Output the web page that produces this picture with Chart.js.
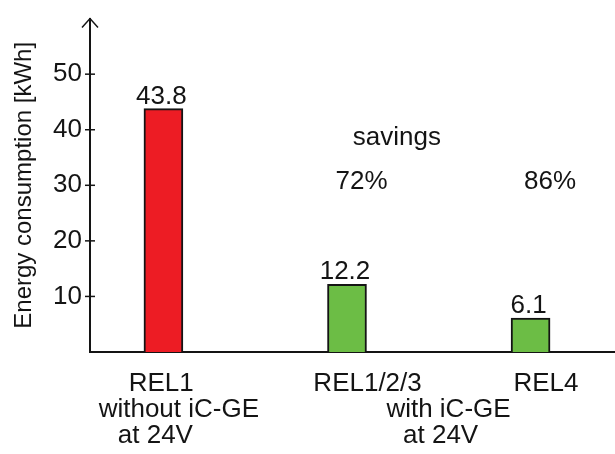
<!DOCTYPE html>
<html>
<head>
<meta charset="utf-8">
<script src="https://cdn.jsdelivr.net/npm/chart.js@4/dist/chart.umd.min.js"></script>
<style>
html,body{margin:0;padding:0;background:#fff;}
#wrap{width:615px;height:454px;position:relative;}
</style>
</head>
<body>
<div id="wrap"><canvas id="c"></canvas></div>
<script>
// ---- data ----
const categories = ["REL1", "REL1/2/3", "REL4"];
const energy = [43.8, 12.2, 6.1];
const groupLabels = [["without iC-GE", "at 24V"], ["with iC-GE", "at 24V"]];
const savingsTitle = "savings";
const savings = ["72%", "86%"];
const yTicks = [10, 20, 30, 40, 50];
const yTitle = "Energy consumption [kWh]";

// ---- style ----
const INK = "#141414";
const FONT = "'Liberation Sans', Arial, sans-serif";
const TXT = 26;

const overlay = {
  id: "overlay",
  afterDraw(chart) {
    const { ctx, chartArea, scales: { x, y } } = chart;
    const L = chartArea.left;
    ctx.save();
    ctx.strokeStyle = INK;
    ctx.fillStyle = INK;
    ctx.lineWidth = 1.5;
    // tick marks crossing the axis
    yTicks.forEach(v => {
      const py = y.getPixelForValue(v);
      ctx.beginPath();
      ctx.moveTo(L - 5, py);
      ctx.lineTo(L + 5, py);
      ctx.stroke();
    });
    // arrow head
    const top = y.getPixelForValue(y.max);
    ctx.beginPath();
    ctx.moveTo(L - 8, top + 9);
    ctx.lineTo(L, top);
    ctx.lineTo(L + 8, top + 9);
    ctx.stroke();

    ctx.font = TXT + "px " + FONT;
    ctx.textAlign = "center";
    ctx.textBaseline = "alphabetic";
    // value labels above bars
    const meta = chart.getDatasetMeta(0);
    meta.data.forEach((el, i) => {
      ctx.fillText(String(energy[i]), el.x - 2, el.y - 5);
    });
    // savings annotation
    ctx.fillText(savingsTitle, x.getPixelForValue(1.272), y.getPixelForValue(37.2));
    const noteX = [1.079, 2.106];
    savings.forEach((s, i) => {
      ctx.fillText(s, x.getPixelForValue(noteX[i]), y.getPixelForValue(29.3));
    });
    // category labels below axis
    const B = chartArea.bottom;
    const catDx = [-0.012, 0.112, 0.084];
    categories.forEach((c, i) => {
      ctx.fillText(c, x.getPixelForValue(i + catDx[i]), B + 39);
    });
    const groupX = [[0.084, -0.044], [1.553, 1.51]];
    groupLabels.forEach((lines, g) => {
      lines.forEach((t, k) => {
        ctx.fillText(t, x.getPixelForValue(groupX[g][k]), B + 65 + 26 * k);
      });
    });
    ctx.restore();
  }
};

new Chart(document.getElementById("c"), {
  type: "bar",
  data: {
    datasets: [{
      data: energy.map((v, i) => ({ x: i, y: v })),
      backgroundColor: ["#ED1C24", "#6CBD45", "#6CBD45"],
      borderColor: INK,
      borderWidth: 2,
      barThickness: 39
    }]
  },
  options: {
    responsive: true,
    maintainAspectRatio: false,
    animation: false,
    layout: { padding: { top: 14, left: 0, right: 0, bottom: 0 } },
    plugins: { legend: { display: false }, tooltip: { enabled: false } },
    scales: {
      x: {
        type: "linear",
        offset: false,
        min: -0.4,
        max: 2.46,
        grid: { display: false },
        ticks: { display: false },
        border: { display: true, color: INK, width: 2 },
        afterFit: s => { s.height = 102; }
      },
      y: {
        min: 0,
        max: 60,
        afterBuildTicks: s => { s.ticks = yTicks.map(v => ({ value: v })); },
        grid: { display: true, drawOnChartArea: false, drawTicks: true, tickLength: 5, color: "rgba(0,0,0,0)" },
        border: { display: true, color: INK, width: 2 },
        ticks: { color: INK, padding: 3, font: { family: FONT, size: TXT } },
        title: {
          display: true,
          text: yTitle,
          color: INK,
          font: { family: FONT, size: 24 },
          padding: { top: 10, bottom: 0 }
        },
        afterFit: s => { s.width = 90; }
      }
    }
  },
  plugins: [overlay]
});
</script>
</body>
</html>
